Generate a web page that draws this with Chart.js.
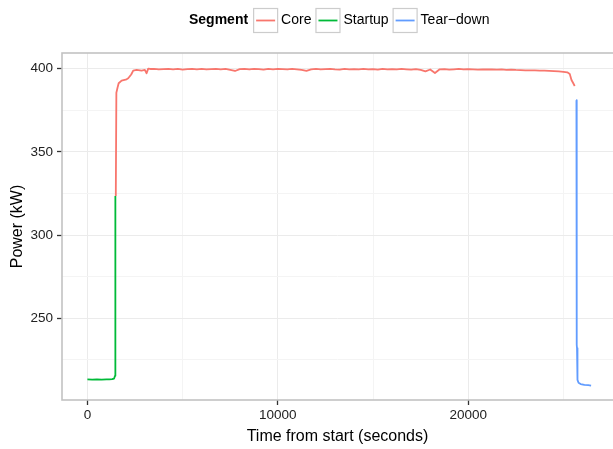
<!DOCTYPE html>
<html>
<head>
<meta charset="utf-8">
<script src="https://cdn.jsdelivr.net/npm/chart.js@4.4.0/dist/chart.umd.min.js"></script>
<style>
body{margin:0;background:#fff;overflow:hidden}
</style>
</head>
<body>
<canvas id="grafica" width="613" height="449"></canvas>
<script>
// dades llegides de la imatge
var segmentNames = ['Core', 'Startup', 'Tear\u2212down'];
var segmentColours = ['#F8766D', '#00BA38', '#619CFF'];

var startupTime  = [0, 250, 500, 750, 1000, 1150, 1300, 1400, 1450, 1465, 1470];
var startupPower = [213.3, 213.2, 213.3, 213.2, 213.3, 213.3, 213.4, 213.8, 215.5, 219, 323.5];

var coreTime = [1490, 1520, 1580, 1640, 1795, 2058, 2142, 2300, 2404, 2583, 2845, 3018, 3108, 3192, 3300,
    3500, 3750, 4000, 4250, 4500, 4750, 5000, 5250, 5500, 5750, 6000, 6250, 6500, 6750, 7000, 7250,
    7500, 7750, 8000, 8250, 8500, 8750, 9000, 9250, 9500, 9750, 10000, 10250, 10500, 10750, 11000, 11250,
    11500, 11750, 12000, 12250, 12500, 12750, 13000, 13250, 13500, 13750, 14000, 14250, 14500, 14750, 15000, 15250,
    15500, 15750, 16000, 16250, 16500, 16750, 17000, 17250, 17500, 17750, 18000, 18250, 18500, 18750, 19000, 19250,
    19500, 19750, 20000, 20250, 20500, 20750, 21000, 21250, 21500, 21750, 22000, 22250, 22500, 22750, 23000, 23250,
    23500, 23750, 24000, 24250, 24500, 24750, 25000, 25200, 25330, 25420, 25500, 25590];
var corePower = [323.5, 385.5, 388.5, 391.2, 392.8, 393.6, 394.2, 396.5, 398.8, 399.2, 398.8, 399.2, 397.2, 400.0, 399.8,
    399.8, 399.5, 399.7, 399.9, 399.6, 399.8, 399.4, 399.7, 399.9, 399.6, 399.8, 399.5, 399.7, 399.9, 399.6, 399.8,
    399.3, 398.6, 399.7, 399.8, 399.5, 399.9, 399.7, 399.4, 399.8, 399.6, 399.9, 399.7, 399.5, 399.8, 399.6, 399.2,
    398.7, 399.6, 399.8, 399.5, 399.7, 399.9, 399.6, 399.4, 399.8, 399.6, 399.7, 399.5, 399.8, 399.6, 399.7, 399.4,
    399.8, 399.6, 399.7, 399.5, 399.8, 399.6, 399.4, 399.7, 399.3, 398.4, 399.5, 397.4, 399.6, 399.7, 399.4, 399.6,
    399.8, 399.5, 399.7, 399.6, 399.4, 399.6, 399.5, 399.6, 399.4, 399.5, 399.3, 399.4, 399.2, 399.1, 399.0, 399.0,
    398.9, 398.8, 398.8, 398.7, 398.5, 398.3, 398.1, 397.8, 396.8, 393.2, 391.5, 389.6];

var teardownTime  = [25680, 25690, 25700, 25710, 25725, 25745, 25790, 25900, 26100, 26300, 26450];
var teardownPower = [381, 300, 234, 232, 220, 213, 211.3, 210.5, 210, 209.8, 209.6];

// línies de la graella (majors amb etiqueta, menors sense)
var xGridValues = [0, 5000, 10000, 15000, 20000, 25000];
var xTickLabels = [0, 10000, 20000];
var yGridValues = [225, 250, 275, 300, 325, 350, 375, 400];
var yTickLabels = [250, 300, 350, 400];

var lletra = '"Liberation Sans", Arial, Helvetica, sans-serif';

function punts(temps, potencia) {
    var res = [];
    for (var i = 0; i < temps.length; i++) {
        res.push({x: temps[i], y: potencia[i]});
    }
    return res;
}

//marc del panell
const vora = {
    id: 'vora',
    beforeDatasetsDraw(chart) {
        const a = chart.chartArea, c = chart.ctx;
        c.save();
        c.strokeStyle = '#c2c2c2';
        c.lineWidth = 1.6;
        c.strokeRect(a.left, a.top, a.right - a.left + 6, a.bottom - a.top);
        c.restore();
    }
};

//llegenda a dalt, estil ggplot
const llegenda = {
    id: 'llegenda',
    afterDraw(chart) {
        const c = chart.ctx;
        const yMig = 20.5;
        c.save();
        c.textBaseline = 'middle';
        c.textAlign = 'left';
        c.fillStyle = '#000';
        c.font = 'bold 14px ' + lletra;
        let x = 189;
        c.fillText('Segment', x, yMig);
        x += c.measureText('Segment').width + 5;
        c.font = '14px ' + lletra;
        [0, 1, 2].forEach(function (i) {
            c.fillStyle = '#fff';
            c.fillRect(x, 8, 25, 25);
            c.strokeStyle = '#cccccc';
            c.lineWidth = 1.2;
            c.strokeRect(x + 0.5, 8.5, 24, 24);
            c.strokeStyle = segmentColours[i];
            c.lineWidth = 1.8;
            c.beginPath();
            c.moveTo(x + 3, yMig);
            c.lineTo(x + 22, yMig);
            c.stroke();
            x += 28;
            c.fillStyle = '#000';
            c.fillText(segmentNames[i], x, yMig);
            x += c.measureText(segmentNames[i]).width + 4;
        });
        c.restore();
    }
};

function fixaTicks(valors) {
    return function (s) {
        s.ticks = valors.map(function (v) { return {value: v}; });
    };
}

const ctx = document.getElementById('grafica');
const series = [punts(coreTime, corePower), punts(startupTime, startupPower), punts(teardownTime, teardownPower)];

const grafica = new Chart(ctx, {
    type: 'line',
    data: {
        datasets: series.map(function (d, i) {
            return {
                label: segmentNames[i],
                data: d,
                borderColor: segmentColours[i],
                borderWidth: 1.8,
                pointRadius: 0,
                tension: 0,
                borderJoinStyle: 'round',
                fill: false
            };
        })
    },
    options: {
        responsive: false,
        animation: false,
        layout: {padding: {top: 53, left: 0, right: 0, bottom: 0}},
        plugins: {
            legend: {display: false},
            tooltip: {enabled: false}
        },
        scales: {
            x: {
                type: 'linear',
                min: -1335,
                max: 27600,
                afterBuildTicks: fixaTicks(xGridValues),
                afterFit: function (s) { s.height = 49; },
                border: {display: false},
                grid: {
                    color: function (c) { return c.tick && xTickLabels.includes(c.tick.value) ? '#ebebeb' : '#f4f4f4'; },
                    lineWidth: 1,
                    tickLength: 5,
                    tickWidth: 1.3,
                    tickColor: function (c) { return c.tick && xTickLabels.includes(c.tick.value) ? '#333' : 'rgba(0,0,0,0)'; }
                },
                ticks: {
                    autoSkip: false,
                    maxRotation: 0,
                    padding: 2,
                    color: '#222',
                    font: {family: lletra, size: 13.5},
                    callback: function (v) { return xTickLabels.includes(v) ? String(v) : ''; }
                },
                title: {
                    display: true,
                    text: 'Time from start (seconds)',
                    color: '#000',
                    font: {family: lletra, size: 16},
                    padding: {top: 0, bottom: 3}
                }
            },
            y: {
                type: 'linear',
                min: 200.9,
                max: 409.4,
                afterBuildTicks: fixaTicks(yGridValues),
                afterFit: function (s) { s.width = 62; },
                border: {display: false},
                grid: {
                    color: function (c) { return c.tick && yTickLabels.includes(c.tick.value) ? '#ebebeb' : '#f4f4f4'; },
                    lineWidth: 1,
                    tickLength: 5,
                    tickWidth: 1.3,
                    tickColor: function (c) { return c.tick && yTickLabels.includes(c.tick.value) ? '#333' : 'rgba(0,0,0,0)'; }
                },
                ticks: {
                    autoSkip: false,
                    padding: 4,
                    color: '#222',
                    font: {family: lletra, size: 13.5},
                    callback: function (v) { return yTickLabels.includes(v) ? String(v) : ''; }
                },
                title: {
                    display: true,
                    text: 'Power (kW)',
                    color: '#000',
                    font: {family: lletra, size: 16},
                    padding: {top: 8, bottom: 0}
                }
            }
        }
    },
    plugins: [vora, llegenda]
});
</script>
</body>
</html>
